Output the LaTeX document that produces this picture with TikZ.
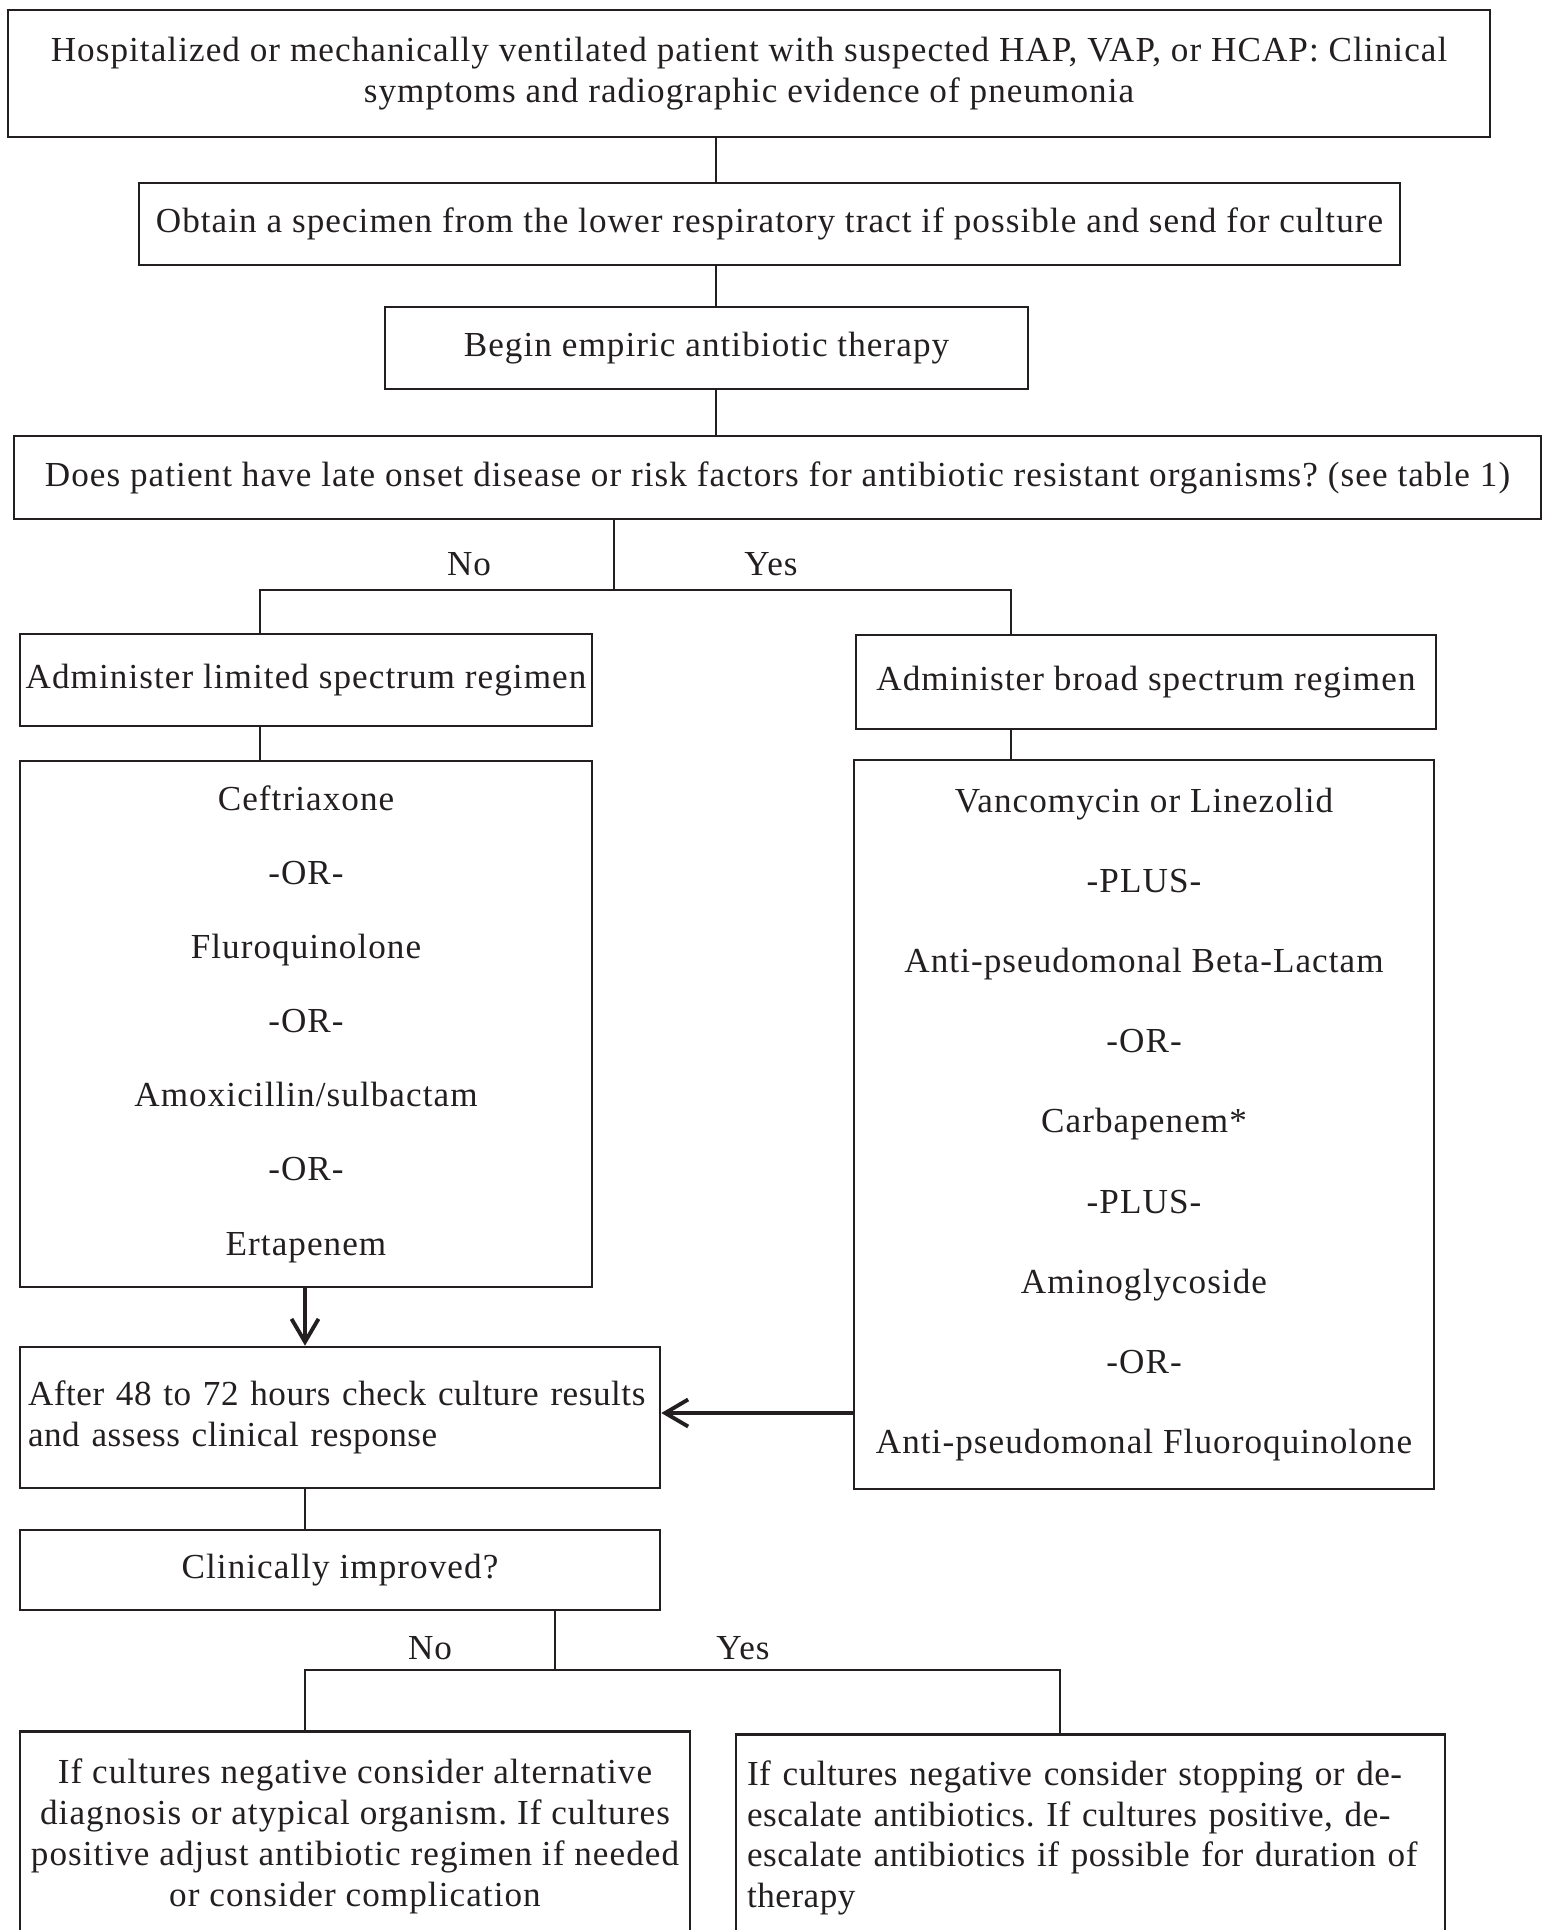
\documentclass[tikz,border=0pt]{standalone}
\usepackage{fontspec}
\setmainfont{Liberation Serif}[LetterSpace=3]
\newfontfamily\tightserif{Liberation Serif}[LetterSpace=1.5]
\usepackage{tikz}
\usetikzlibrary{arrows.meta,positioning}
\definecolor{flowInk}{RGB}{35,31,32}
\frenchspacing

\tikzset{
  flowbox/.style={draw=flowInk, line width=0.75pt, text=flowInk, inner sep=0pt,
    align=center, font=\fontsize{10}{11.6}\selectfont},
  flowline/.style={draw=flowInk, line width=0.7pt},
  flowarrow/.style={draw=flowInk, line width=1.1pt, -{Straight Barb[length=2.3mm,width=2.7mm]}},
  branchlabel/.style={text=flowInk, font=\fontsize{10}{11.6}\selectfont},
}

\begin{document}
\begin{tikzpicture}[x=0.1mm,y=-0.1mm]

    \useasboundingbox (0,0) rectangle (1546,1930);
    \clip (0,0) rectangle (1546,1930);

    % connector positions
    \coordinate (spine) at (716,0);
    \coordinate (fork) at (614,590);
    \coordinate (forkL) at (260,590);
    \coordinate (forkR) at (1011,590);
    \coordinate (drop) at (305,0);
    \coordinate (backin) at (0,1413);
    \coordinate (fork2) at (555,1670);
    \coordinate (fork2L) at (305,1670);
    \coordinate (fork2R) at (1060,1670);

    % top of the chart
    \node[flowbox, minimum width=148.2mm, minimum height=12.7mm] (start) at (749,73.5)
      {Hospitalized or mechanically ventilated patient with suspected HAP, VAP, or HCAP: Clinical\\
       symptoms and radiographic evidence of pneumonia};
    \node[flowbox, minimum width=126.1mm, minimum height=8.2mm] (specimen) at (769.5,224)
      {Obtain a specimen from the lower respiratory tract if possible and send for culture};
    \node[flowbox, minimum width=64.3mm, minimum height=8.2mm] (empiric) at (706.5,348)
      {Begin empiric antibiotic therapy};
    \node[flowbox, minimum width=152.7mm, minimum height=8.3mm] (risk) at (777.5,477.5)
      {Does patient have late onset disease or risk factors for antibiotic resistant organisms? (see table 1)};

    \draw[flowline] (start.south -| spine) -- (specimen.north -| spine);
    \draw[flowline] (specimen.south -| spine) -- (empiric.north -| spine);
    \draw[flowline] (empiric.south -| spine) -- (risk.north -| spine);

    % regimens
    \node[flowbox, minimum width=57.2mm, minimum height=9.2mm] (limited) at (306,680)
      {Administer limited spectrum regimen};
    \node[flowbox, minimum width=58mm, minimum height=9.4mm] (broad) at (1146,682)
      {Administer broad spectrum regimen};

    \draw[flowline] (risk.south -| fork) -- (fork);
    \draw[flowline] (limited.north -| forkL) -- (forkL) -- (forkR) -- (broad.north -| forkR);
    \node[branchlabel] (riskno) at (469,564) {No};
    \node[branchlabel] (riskyes) at (771,564) {Yes};

    % drug lists
    \node[flowbox, minimum width=57.2mm, minimum height=52.6mm, font=\fontsize{10}{21.1}\selectfont]
      (limdrugs) at (306,1024)
      {Ceftriaxone\\ -OR-\\ Fluroquinolone\\ -OR-\\ Amoxicillin/sulbactam\\ -OR-\\ Ertapenem};
    \node[flowbox, minimum width=58mm, minimum height=72.9mm, font=\fontsize{10}{22.8}\selectfont]
      (broaddrugs) at (1144,1124.5)
      {Vancomycin or Linezolid\\ -PLUS-\\ Anti-pseudomonal Beta-Lactam\\ -OR-\\ Carbapenem*\\
       -PLUS-\\ Aminoglycoside\\ -OR-\\ Anti-pseudomonal Fluoroquinolone};

    \draw[flowline] (limited.south -| forkL) -- (limdrugs.north -| forkL);
    \draw[flowline] (broad.south -| forkR) -- (broaddrugs.north -| forkR);

    % reassessment
    \node[flowbox, minimum width=64mm, minimum height=14.1mm, align=left, inner xsep=0.8mm,
      text width=62.4mm, font=\fontsize{10}{11.6}\tightserif] (reassess) at (340,1417.5)
      {After 48 to 72 hours check culture results\\ and assess clinical response};
    \node[flowbox, minimum width=64mm, minimum height=8mm] (improved) at (340,1570)
      {Clinically improved?};

    \draw[flowarrow] (limdrugs.south -| drop) -- (reassess.north -| drop);
    \draw[flowarrow] (broaddrugs.west |- backin) -- (reassess.east |- backin);
    \draw[flowline] (reassess.south -| drop) -- (improved.north -| drop);

    % outcomes
    \node[flowbox, anchor=north, minimum width=67mm, minimum height=21mm] (noimprove) at (355,1730)
      {If cultures negative consider alternative\\ diagnosis or atypical organism. If cultures\\
       positive adjust antibiotic regimen if needed\\ or consider complication};
    \node[flowbox, anchor=north, minimum width=70.9mm, minimum height=20.7mm, align=left,
      inner xsep=1.1mm, text width=68.7mm, font=\fontsize{10}{11.6}\tightserif] (yesimprove) at (1090.5,1733)
      {If cultures negative consider stopping or de-\\ escalate antibiotics. If cultures positive, de-\\
       escalate antibiotics if possible for duration of\\ therapy};

    \draw[flowline] (improved.south -| fork2) -- (fork2);
    \draw[flowline] (noimprove.north -| fork2L) -- (fork2L) -- (fork2R) -- (yesimprove.north -| fork2R);
    \node[branchlabel] (impno) at (430,1648) {No};
    \node[branchlabel] (impyes) at (743,1648) {Yes};

\end{tikzpicture}
\end{document}
